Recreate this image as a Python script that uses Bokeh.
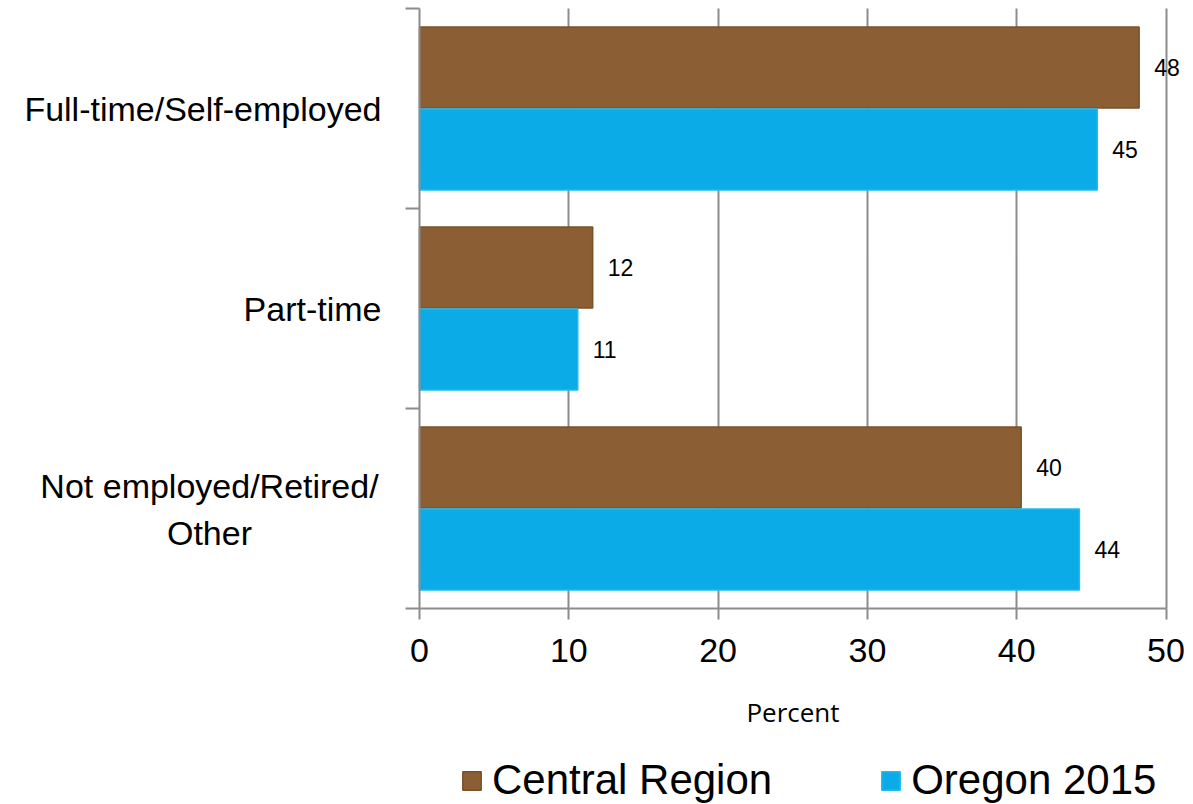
from bokeh.plotting import figure
from bokeh.models import (Range1d, FixedTicker, Label, LabelSet, ColumnDataSource,
                          Legend, LegendItem, LinearAxis, Grid)
from bokeh.core.properties import value
from bokeh.embed import file_html
from bokeh.resources import INLINE

# ---- data ----
categories = ["Full-time/Self-employed", "Part-time", "Not employed/Retired/\nOther"]
series = ["Central Region", "Oregon 2015"]
central = [48.2, 11.6, 40.3]
oregon = [45.4, 10.6, 44.2]
central_labels = ["48", "12", "40"]
oregon_labels = ["45", "11", "44"]
x_ticks = [0, 10, 20, 30, 40, 50]

BROWN = "#8B5E33"
BROWN_EDGE = "#7A512B"
BLUE = "#0AABE6"
BLUE_EDGE = "#22B9EE"
GRID = "#8C8C8C"
FONT = "Arial, 'Liberation Sans', sans-serif"

n = len(categories)
centers = [n - 0.5 - i for i in range(n)]
off = 0.205
bar_h = 0.405

W, H = 1193, 804
X0_PX, X_SCALE = 419, 14.93      # pixel of x=0, px per unit
Y0_PX, Y_SCALE = 608, 200.0      # pixel of y=0 (from top), px per unit

p = figure(width=W, height=H, output_backend="svg", toolbar_location=None,
           x_range=Range1d(-X0_PX / X_SCALE, (W - X0_PX) / X_SCALE),
           y_range=Range1d(-(H - Y0_PX) / Y_SCALE, Y0_PX / Y_SCALE),
           x_axis_location=None, y_axis_location=None,
           min_border=0)
p.outline_line_color = None
p.background_fill_color = "white"
p.border_fill_color = "white"
p.grid.visible = False

# vertical grid lines restricted to the plotting area
g = Grid(dimension=0, ticker=FixedTicker(ticks=x_ticks[1:]),
         grid_line_color=GRID, grid_line_width=2)
if "cross_bounds" in g.properties():
    g.cross_bounds = (0, n)
    p.add_layout(g)
else:
    p.segment(x0=x_ticks[1:], x1=x_ticks[1:], y0=[0] * 5, y1=[n] * 5,
              line_color=GRID, line_width=2)

# x axis
xa = LinearAxis(fixed_location=0, bounds=(0, 50), ticker=FixedTicker(ticks=x_ticks))
xa.axis_line_color = GRID
xa.axis_line_width = 2
xa.major_tick_line_color = GRID
xa.major_tick_line_width = 2
xa.major_tick_in = 0
xa.major_tick_out = 11
xa.minor_tick_line_color = None
xa.major_label_text_font = FONT
xa.major_label_text_font_size = "34px"
xa.major_label_text_color = "black"
xa.major_label_standoff = 19
xa.axis_label = "Percent"
xa.axis_label_text_font = "Open Sans"
xa.axis_label_text_font_size = "26px"
xa.axis_label_text_font_style = "normal"
xa.axis_label_text_color = "black"
xa.axis_label_standoff = 29
p.add_layout(xa, "below")

# y axis (boundary ticks only)
ya = LinearAxis(fixed_location=0, bounds=(0, n), ticker=FixedTicker(ticks=list(range(n + 1))))
ya.axis_line_color = GRID
ya.axis_line_width = 2
ya.major_tick_line_color = GRID
ya.major_tick_line_width = 2
ya.major_tick_in = 0
ya.major_tick_out = 14
ya.minor_tick_line_color = None
ya.major_label_text_font_size = "0px"
ya.major_label_text_color = None
p.add_layout(ya, "left")

# bars
src_c = ColumnDataSource(dict(y=[c + off for c in centers], x=central, lab=central_labels))
src_o = ColumnDataSource(dict(y=[c - off for c in centers], x=oregon, lab=oregon_labels))
r_c = p.hbar(y="y", right="x", left=0, height=bar_h, source=src_c,
             fill_color=BROWN, line_color=BROWN_EDGE, line_width=1.5)
r_o = p.hbar(y="y", right="x", left=0, height=bar_h, source=src_o,
             fill_color=BLUE, line_color=BLUE_EDGE, line_width=1.5)

for src in (src_c, src_o):
    p.add_layout(LabelSet(x="x", y="y", text="lab", source=src, x_offset=15,
                          text_baseline="middle", text_align="left",
                          text_font=value(FONT), text_font_size="23px",
                          text_color="black"))

# category labels
for c, lab in zip(centers, categories):
    if "\n" in lab:
        p.add_layout(Label(x=(209 - X0_PX) / X_SCALE, y=c - 0.005, text=lab,
                           text_align="center", text_baseline="middle",
                           text_font=FONT, text_font_size="34px",
                           text_line_height=1.22, text_color="black"))
    else:
        p.add_layout(Label(x=(381 - X0_PX) / X_SCALE, y=c, text=lab,
                           text_align="right", text_baseline="middle",
                           text_font=FONT, text_font_size="34px",
                           text_color="black"))

# legend
legend = Legend(items=[LegendItem(label=series[0], renderers=[r_c]),
                       LegendItem(label=series[1], renderers=[r_o])],
                location=(460, 0), orientation="horizontal",
                glyph_width=23, glyph_height=23, label_standoff=9, spacing=107,
                padding=0, margin=0, border_line_color=None,
                background_fill_alpha=0,
                label_text_font=FONT, label_text_font_size="42px",
                label_text_color="black")
p.add_layout(legend)

open("out.html", "w").write(file_html(p, INLINE))
